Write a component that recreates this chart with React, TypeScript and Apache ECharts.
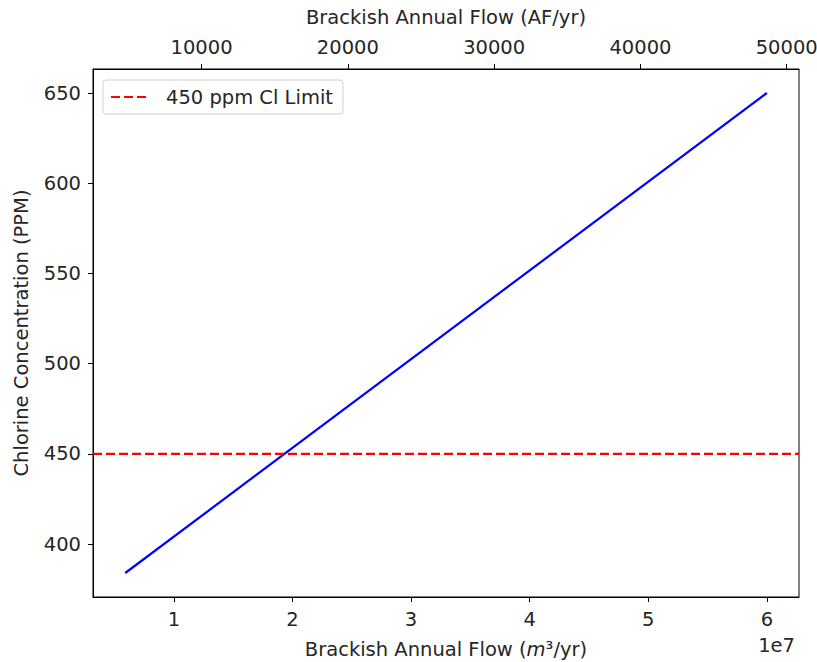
import React, { useEffect, useRef } from "react";
import * as echarts from "echarts";

// Data
const flowM3: number[] = [0.59e7, 6.0e7];
const chlorinePpm: number[] = [384, 650];
const limitPpm = 450;
const bottomTicks: number[] = [1e7, 2e7, 3e7, 4e7, 5e7, 6e7];
const topTicks: number[] = [10000, 20000, 30000, 40000, 50000];
const yTicks: number[] = [400, 450, 500, 550, 600, 650];
const M3_PER_AF = 1233.48;

const X_MIN = 0.318e7;
const X_MAX = 6.271e7;
const Y_MIN = 370.7;
const Y_MAX = 663.3;

const FONT = "DejaVu Sans";
const FS = 19.5;
const TXT = "#262626";

export default function App() {
  const ref = useRef<HTMLDivElement>(null);
  useEffect(() => {
    if (!ref.current) return;
    const chart = echarts.init(ref.current, null, { renderer: "svg" });
    const line = flowM3.map((x, i) => [x, chlorinePpm[i]]);
    const limit = [
      [X_MIN, limitPpm],
      [X_MAX, limitPpm],
    ];
    chart.setOption({
      animation: false,
      backgroundColor: "#ffffff",
      textStyle: { fontFamily: FONT },
      grid: {
        left: 93,
        right: 18,
        top: 69,
        bottom: 65,
        show: true,
        borderColor: "#000",
        borderWidth: 1,
        containLabel: false,
        outerBoundsMode: "none",
      },
      legend: {
        show: true,
        data: ["450 ppm Cl Limit"],
        left: 103,
        top: 80,
        orient: "vertical",
        itemWidth: 39,
        itemHeight: 14,
        padding: [7, 10, 7, 7],
        borderColor: "#d0d0d0",
        borderWidth: 1,
        borderRadius: 3,
        backgroundColor: "#fff",
        itemStyle: { opacity: 0 },
        textStyle: {
          fontFamily: FONT,
          fontSize: FS,
          color: TXT,
          padding: [0, 0, 0, 11],
        },
      },
      xAxis: [
        {
          type: "value",
          position: "bottom",
          min: X_MIN,
          max: X_MAX,
          name: "Brackish Annual Flow ({i|m}³/yr)",
          nameLocation: "middle",
          nameGap: 42,
          nameTextStyle: {
            fontFamily: FONT,
            fontSize: FS,
            color: TXT,
            rich: {
              i: { fontFamily: FONT, fontSize: FS, fontStyle: "italic", color: TXT },
            },
          },
          axisLine: { show: true, lineStyle: { color: "#000", width: 1 } },
          axisTick: {
            show: true,
            inside: false,
            length: 5,
            customValues: bottomTicks,
            lineStyle: { color: "#000" },
          },
          axisLabel: {
            customValues: bottomTicks,
            formatter: (v: number) => String(Math.round(v / 1e7)),
            fontFamily: FONT,
            fontSize: FS,
            color: TXT,
            margin: 12,
          },
          splitLine: { show: false },
        },
        {
          type: "value",
          position: "top",
          min: X_MIN / M3_PER_AF,
          max: X_MAX / M3_PER_AF,
          name: "Brackish Annual Flow (AF/yr)",
          nameLocation: "middle",
          nameGap: 42,
          nameTextStyle: { fontFamily: FONT, fontSize: FS, color: TXT },
          axisLine: { show: true, lineStyle: { color: "#000", width: 1 } },
          axisTick: {
            show: true,
            inside: false,
            length: 5,
            customValues: topTicks,
            lineStyle: { color: "#000" },
          },
          axisLabel: {
            customValues: topTicks,
            formatter: (v: number) => String(Math.round(v)),
            fontFamily: FONT,
            fontSize: FS,
            color: TXT,
            margin: 12,
          },
          splitLine: { show: false },
        },
      ],
      yAxis: {
        type: "value",
        min: Y_MIN,
        max: Y_MAX,
        name: "Chlorine Concentration (PPM)",
        nameLocation: "middle",
        nameGap: 62,
        nameTextStyle: { fontFamily: FONT, fontSize: FS, color: TXT },
        axisLine: { show: true, lineStyle: { color: "#000", width: 1 } },
        axisTick: {
          show: true,
          inside: false,
          length: 5,
          customValues: yTicks,
          lineStyle: { color: "#000" },
        },
        axisLabel: {
          customValues: yTicks,
          formatter: (v: number) => String(Math.round(v)),
          fontFamily: FONT,
          fontSize: FS,
          color: TXT,
          margin: 12,
        },
        splitLine: { show: false },
      },
      graphic: [
        {
          type: "text",
          right: 22,
          top: 635,
          style: {
            text: "1e7",
            fontFamily: FONT,
            fontSize: FS,
            fill: TXT,
          },
        },
      ],
      series: [
        {
          type: "line",
          name: "flow",
          xAxisIndex: 0,
          data: line,
          symbol: "none",
          lineStyle: { color: "#0000ff", width: 2.2 },
          itemStyle: { color: "#0000ff" },
          silent: true,
        },
        {
          type: "line",
          name: "450 ppm Cl Limit",
          xAxisIndex: 0,
          data: limit,
          symbol: "none",
          lineStyle: { color: "#ff0000", width: 2.2, type: [9, 4] },
          itemStyle: { color: "#ff0000" },
          silent: true,
        },
      ],
    });
    return () => chart.dispose();
  }, []);
  return (
    <div
      ref={ref}
      style={{ position: "fixed", left: 0, top: 0, width: 817, height: 662, background: "#fff" }}
    />
  );
}
